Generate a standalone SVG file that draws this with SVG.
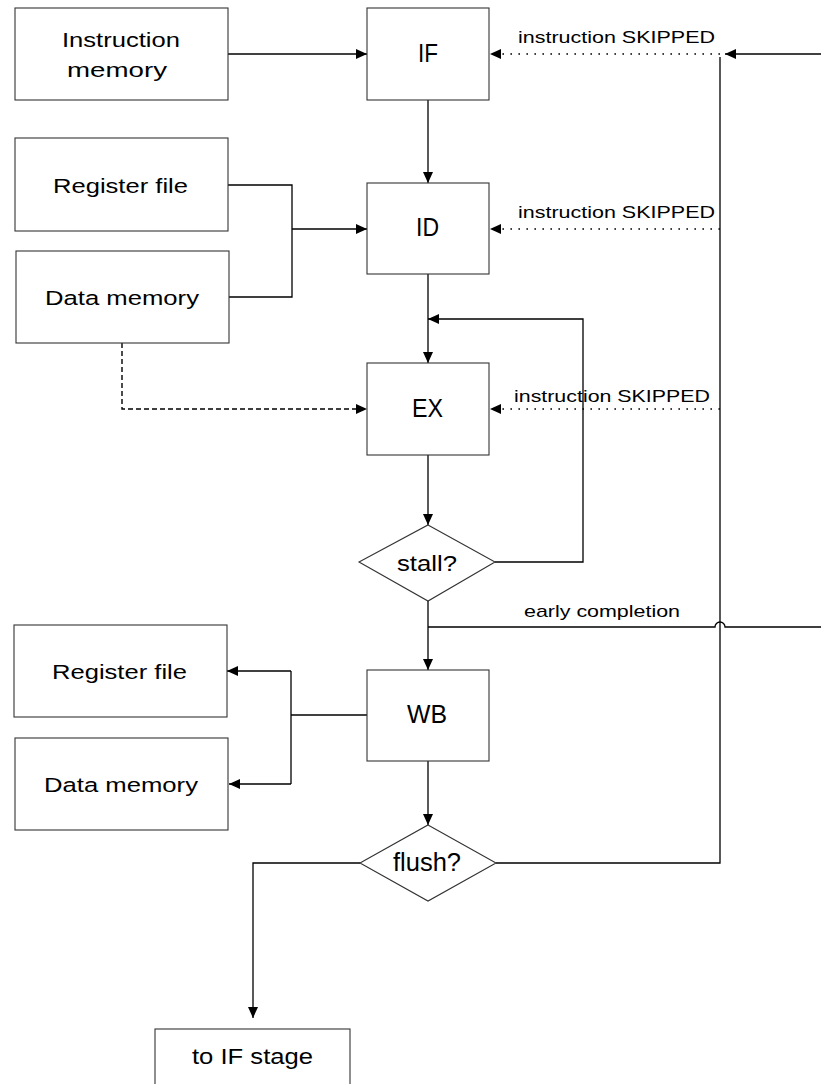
<svg xmlns="http://www.w3.org/2000/svg" width="821" height="1084" viewBox="0 0 821 1084">
  <style>
    .box { fill: #ffffff; stroke: #333333; stroke-width: 1.1; }
    .lbl { font-family: "Liberation Sans", Arial, sans-serif; fill: #000000; }
    .wire { fill: none; stroke: #000000; stroke-width: 1.3; }
    .dot { fill: none; stroke: #000000; stroke-width: 1.6; stroke-dasharray: 1.6 6.4; }
    .dash { fill: none; stroke: #000000; stroke-width: 1.4; stroke-dasharray: 5 3; }
  </style>
  <defs>
    <marker id="arrow" markerUnits="userSpaceOnUse" markerWidth="11" markerHeight="10" refX="11" refY="5" orient="auto">
      <path d="M0,0 L11,5 L0,10 z" fill="#000000"/>
    </marker>
  </defs>
  <rect width="821" height="1084" fill="#ffffff"/>

  <!-- connectors -->
  <g id="connectors">
    <!-- instruction memory to IF -->
    <path class="wire" d="M228,54 H367" marker-end="url(#arrow)"/>
    <!-- IF to ID -->
    <path class="wire" d="M428,100 V183" marker-end="url(#arrow)"/>
    <!-- register file / data memory merge into ID -->
    <path class="wire" d="M228,185 H292 V297 H229"/>
    <path class="wire" d="M292,229 H367" marker-end="url(#arrow)"/>
    <!-- data memory to EX (dashed) -->
    <path class="dash" d="M122,343 V409 H367" marker-end="url(#arrow)"/>
    <!-- ID to EX -->
    <path class="wire" d="M428,274 V363" marker-end="url(#arrow)"/>
    <!-- stall loop back -->
    <path class="wire" d="M495,562 H583 V319 H428" marker-end="url(#arrow)"/>
    <!-- EX to stall? -->
    <path class="wire" d="M428,455 V525" marker-end="url(#arrow)"/>
    <!-- stall? to WB -->
    <path class="wire" d="M428,601 V670" marker-end="url(#arrow)"/>
    <!-- early completion branch with hop over the flush bus -->
    <path class="wire" d="M428,627 H715 A5,5 0 0 1 725,627 H821"/>
    <!-- WB to register file / data memory -->
    <path class="wire" d="M367,715 H291"/>
    <path class="wire" d="M291,671 V784"/>
    <path class="wire" d="M291,671 H227" marker-end="url(#arrow)"/>
    <path class="wire" d="M291,784 H229" marker-end="url(#arrow)"/>
    <!-- WB to flush? -->
    <path class="wire" d="M428,761 V825" marker-end="url(#arrow)"/>
    <!-- flush? no: to IF stage -->
    <path class="wire" d="M360,863 H253 V1018" marker-end="url(#arrow)"/>
    <!-- flush? yes: bus up the right side -->
    <path class="wire" d="M496,863 H720 V57"/>
    <!-- external input on the right -->
    <path class="wire" d="M821,54 H725" marker-end="url(#arrow)"/>
    <!-- skip signals -->
    <path class="dot" d="M720,54 H490" marker-end="url(#arrow)"/>
    <path class="dot" d="M720,229 H490" marker-end="url(#arrow)"/>
    <path class="dot" d="M720,409 H490" marker-end="url(#arrow)"/>
    <!-- connector labels -->
    <text class="lbl" x="518" y="43" font-size="17" textLength="197" lengthAdjust="spacingAndGlyphs">instruction SKIPPED</text>
    <text class="lbl" x="518" y="218" font-size="17" textLength="197" lengthAdjust="spacingAndGlyphs">instruction SKIPPED</text>
    <text class="lbl" x="514" y="402" font-size="17" textLength="196" lengthAdjust="spacingAndGlyphs">instruction SKIPPED</text>
    <text class="lbl" x="524" y="617" font-size="17" textLength="156" lengthAdjust="spacingAndGlyphs">early completion</text>
  </g>

  <g id="instruction-memory">
    <rect class="box" x="15" y="8" width="213" height="92"/>
    <text class="lbl" x="62" y="47" font-size="21" textLength="118" lengthAdjust="spacingAndGlyphs">Instruction</text>
    <text class="lbl" x="67" y="77" font-size="21" textLength="100" lengthAdjust="spacingAndGlyphs">memory</text>
  </g>

  <g id="stage-if">
    <rect class="box" x="367" y="8" width="122" height="92"/>
    <text class="lbl" x="418" y="62" font-size="26" textLength="20" lengthAdjust="spacingAndGlyphs">IF</text>
  </g>

  <g id="register-file-read">
    <rect class="box" x="15" y="138" width="213" height="93"/>
    <text class="lbl" x="53" y="193" font-size="20.5" textLength="135" lengthAdjust="spacingAndGlyphs">Register file</text>
  </g>

  <g id="data-memory-read">
    <rect class="box" x="16" y="251" width="213" height="92"/>
    <text class="lbl" x="45" y="305" font-size="20.5" textLength="154" lengthAdjust="spacingAndGlyphs">Data memory</text>
  </g>

  <g id="stage-id">
    <rect class="box" x="367" y="183" width="122" height="91"/>
    <text class="lbl" x="416" y="236" font-size="26" textLength="23" lengthAdjust="spacingAndGlyphs">ID</text>
  </g>

  <g id="stage-ex">
    <rect class="box" x="367" y="363" width="122" height="92"/>
    <text class="lbl" x="412" y="417" font-size="25.5" textLength="31" lengthAdjust="spacingAndGlyphs">EX</text>
  </g>

  <g id="decision-stall">
    <polygon class="box" points="428,525 495,562 428,601 359,562"/>
    <text class="lbl" x="397" y="571" font-size="22" textLength="60" lengthAdjust="spacingAndGlyphs">stall?</text>
  </g>

  <g id="stage-wb">
    <rect class="box" x="367" y="670" width="122" height="91"/>
    <text class="lbl" x="407" y="723" font-size="26" textLength="40" lengthAdjust="spacingAndGlyphs">WB</text>
  </g>

  <g id="register-file-write">
    <rect class="box" x="14" y="625" width="213" height="92"/>
    <text class="lbl" x="52" y="679" font-size="20.5" textLength="135" lengthAdjust="spacingAndGlyphs">Register file</text>
  </g>

  <g id="data-memory-write">
    <rect class="box" x="15" y="738" width="213" height="92"/>
    <text class="lbl" x="44" y="792" font-size="20.5" textLength="154" lengthAdjust="spacingAndGlyphs">Data memory</text>
  </g>

  <g id="decision-flush">
    <polygon class="box" points="428,825 496,863 428,901 360,863"/>
    <text class="lbl" x="393" y="871" font-size="25" textLength="68" lengthAdjust="spacingAndGlyphs">flush?</text>
  </g>

  <g id="to-if-stage">
    <rect class="box" x="155" y="1029" width="195" height="70"/>
    <text class="lbl" x="192" y="1064" font-size="22" textLength="121" lengthAdjust="spacingAndGlyphs">to IF stage</text>
  </g>
</svg>
